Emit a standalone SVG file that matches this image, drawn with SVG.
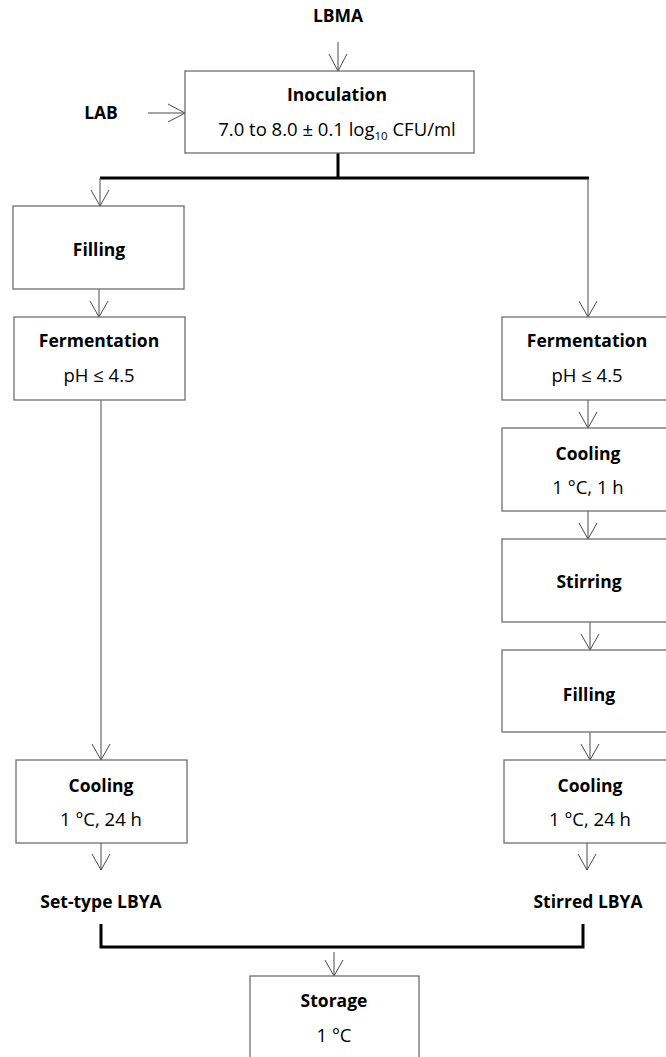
<svg xmlns="http://www.w3.org/2000/svg" width="666" height="1057" viewBox="0 0 666 1057">
<defs>
<style>
.box{fill:#fff;stroke:#6e6e6e;stroke-width:1.3}
.ln{fill:none;stroke:#4a4a4a;stroke-width:1}
.thick{fill:none;stroke:#000;stroke-width:3}
text{font-family:"Open Sans","Liberation Sans",sans-serif;font-size:18.5px;fill:#000;text-anchor:middle}
.b{font-weight:bold;font-size:17.5px}
</style>
</defs>
<rect width="666" height="1057" fill="#fff"/>
<g id="connectors">
<path class="ln" d="M338 42V71M329 54L338 71L347 54"/>
<path class="ln" d="M148 113H185M168 104L185 113L168 122"/>
<path class="thick" d="M338 153V178M100 178H589"/>
<path class="ln" d="M100 178V206M91 190L100 206L109 190"/>
<path class="ln" d="M588 178V317M579 301L588 317L597 301"/>
<path class="ln" d="M99 289V317M90 301L99 317L108 301"/>
<path class="ln" d="M101 400V760M92 744L101 760L110 744"/>
<path class="ln" d="M588 400V428M579 412L588 428L597 412"/>
<path class="ln" d="M588 511V539M579 523L588 539L597 523"/>
<path class="ln" d="M590 622V650M581 634L590 650L599 634"/>
<path class="ln" d="M590 732V760M581 744L590 760L599 744"/>
<path class="ln" d="M101 843V870M92 854L101 870L110 854"/>
<path class="ln" d="M587 843V870M578 854L587 870L596 854"/>
<path class="thick" d="M101 924V947H583V924"/>
<path class="ln" d="M334 952V976M325 960L334 976L343 960"/>
</g>
<g id="lbma"><text class="b" x="338" y="22">LBMA</text></g>
<g id="lab"><text class="b" x="101" y="119">LAB</text></g>
<g id="inoculation">
<rect class="box" x="185" y="71" width="289" height="82"/>
<text class="b" x="337" y="101">Inoculation</text>
<text x="337" y="136">7.0 to 8.0 ± 0.1 log<tspan font-size="11.5" dy="4">10</tspan><tspan dy="-4"> CFU/ml</tspan></text>
</g>
<g id="filling-left">
<rect class="box" x="13" y="206" width="171" height="83"/>
<text class="b" x="99" y="256">Filling</text>
</g>
<g id="fermentation-left">
<rect class="box" x="14" y="317" width="171" height="83"/>
<text class="b" x="99" y="347">Fermentation</text>
<text x="99" y="382">pH ≤ 4.5</text>
</g>
<g id="cooling-left">
<rect class="box" x="16" y="760" width="171" height="83"/>
<text class="b" x="101" y="792">Cooling</text>
<text x="101" y="826">1 °C, 24 h</text>
</g>
<g id="fermentation-right">
<rect class="box" x="502" y="317" width="172" height="83"/>
<text class="b" x="587" y="347">Fermentation</text>
<text x="587" y="382">pH ≤ 4.5</text>
</g>
<g id="cooling-1h">
<rect class="box" x="502" y="428" width="172" height="83"/>
<text class="b" x="588" y="460">Cooling</text>
<text x="588" y="494">1 °C, 1 h</text>
</g>
<g id="stirring">
<rect class="box" x="502" y="539" width="172" height="83"/>
<text class="b" x="589" y="588">Stirring</text>
</g>
<g id="filling-right">
<rect class="box" x="502" y="650" width="172" height="82"/>
<text class="b" x="589" y="701">Filling</text>
</g>
<g id="cooling-right">
<rect class="box" x="504" y="760" width="170" height="83"/>
<text class="b" x="590" y="792">Cooling</text>
<text x="590" y="826">1 °C, 24 h</text>
</g>
<g id="set-type"><text class="b" x="101" y="908">Set-type LBYA</text></g>
<g id="stirred"><text class="b" x="588" y="908">Stirred LBYA</text></g>
<g id="storage">
<rect class="box" x="250" y="976" width="169" height="90"/>
<text class="b" x="334" y="1007">Storage</text>
<text x="334" y="1042">1 °C</text>
</g>
</svg>
